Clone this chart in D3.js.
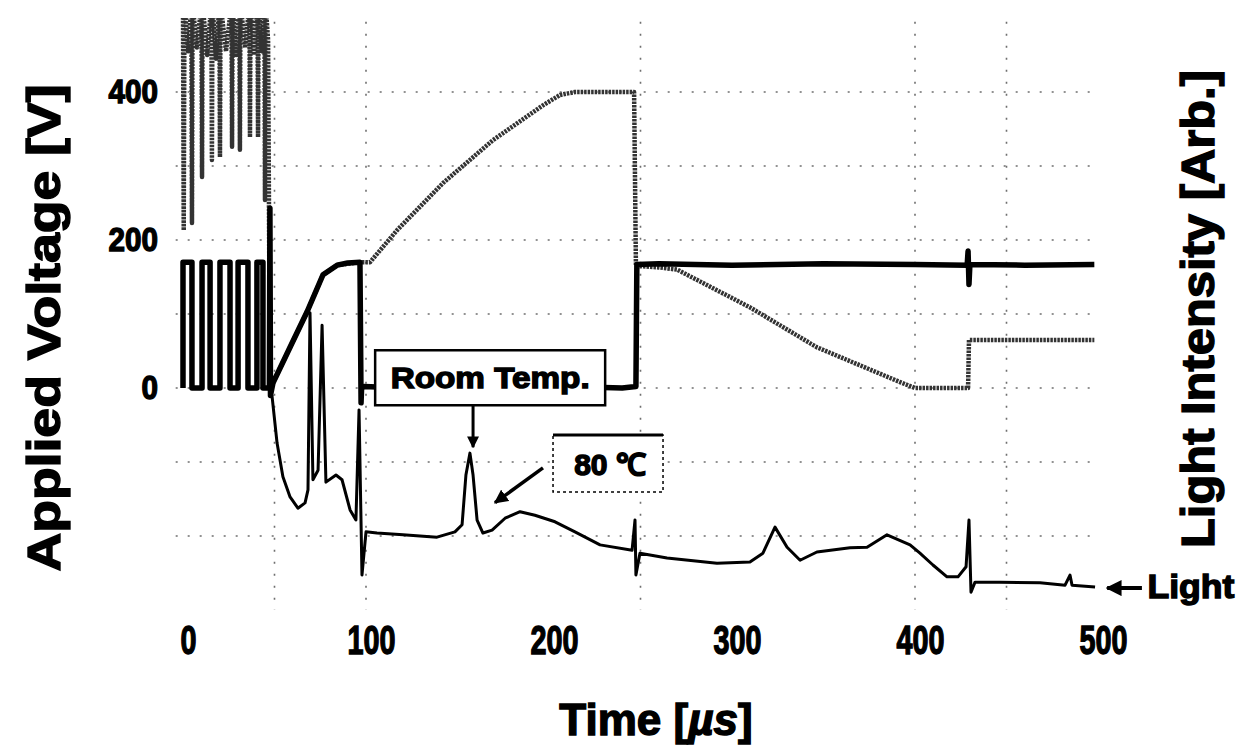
<!DOCTYPE html>
<html>
<head>
<meta charset="utf-8">
<script src="https://cdn.jsdelivr.net/npm/d3@7"></script>
<style>
  html, body { margin: 0; padding: 0; background: #fff; }
  svg text { font-family: "Liberation Sans", Arial, sans-serif; font-weight: bold; fill: #000; }
  svg text.heavy { stroke: #000; stroke-width: 1.4px; }
</style>
</head>
<body>
<svg id="chart" width="1243" height="747"></svg>
<script>
// axis ticks and oscilloscope grid (time in µs, voltage in V)
const timeTicks = [0, 100, 200, 300, 400, 500];
const voltTicks = [0, 200, 400];
const gridTimes = [50, 100, 250, 400, 450];
const gridVolts = [400, 300, 200, 100, 0, -100, -200];

// applied voltage, dark trace [time, V]
const sustainTrace = [
  [0, 0], [0, 170], [4.9, 170], [4.9, 0], [10.4, 0], [10.4, 170], [14.8, 170], [14.8, 0],
  [20.2, 0], [20.2, 170], [25.7, 170], [25.7, 0], [30.1, 0], [30.1, 170], [35.5, 170], [35.5, 0],
  [40.4, 0], [40.4, 170], [43.7, 170], [43.7, 0], [47.2, 0], [47.5, 243], [47.8, -10],
  [49.2, 7], [58.5, 55], [67.8, 103], [76.5, 153], [84.2, 166], [90, 169], [96.7, 170],
  [97.3, -20], [97.6, 0], [99, 2], [120, 0], [150, 3], [180, -1], [210, 2], [240, 0], [247.5, 2],
  [248, 167], [260, 168], [300, 166], [350, 168], [400, 167], [428.5, 166], [429, 185],
  [429.5, 140], [430, 167], [460, 166], [498, 167]
];

// applied voltage, grey ramp trace [time, V]
const rampTrace = [
  [0, 520], [0.4, 213], [0.8, 520], [2.8, 455], [4.6, 520], [4.9, 223], [5.2, 520], [7.6, 460],
  [10.1, 520], [10.4, 285], [10.7, 520], [13.2, 450], [15.5, 520], [15.8, 308], [16.1, 520],
  [18, 445], [19.9, 520], [20.2, 312], [20.5, 520], [23.5, 455], [26.5, 520], [26.8, 326],
  [27.1, 520], [29, 450], [30.8, 520], [31.1, 322], [31.4, 520], [34, 460], [36.3, 520],
  [36.6, 339], [36.9, 520], [38.8, 450], [40.7, 520], [41, 339], [41.3, 520], [43, 455],
  [44.5, 520], [44.8, 254], [45.1, 520], [46.5, 470], [47.5, 0],
  [49.2, 7], [67.8, 103], [76.5, 153], [84.2, 166], [96.7, 170], [102.2, 170], [116.9, 213],
  [142.1, 277], [169.4, 335], [196.7, 382], [206, 396], [214.2, 400], [245.4, 400],
  [246.5, 400], [247.5, 165], [260, 163], [270, 160], [309.8, 109], [346.4, 55], [391.8, 8],
  [400, 0], [429, 0], [429.5, 65], [498, 65]
];

// light intensity [time, arb. units]
const lightTrace = [
  [48.6, 36.3], [51.4, 28.2], [54.6, 22.5], [58.5, 19.1], [62.8, 17.2], [66.7, 18.1],
  [68.3, 20.3], [69.4, 50.2], [71.0, 22.0], [73.8, 23.6], [76.0, 48.1], [78.1, 21.6],
  [83.6, 22.8], [86.9, 22.0], [91.3, 16.9], [94.5, 15.2], [96.2, 33.8], [97.8, 5.9],
  [100, 13.2], [106, 13.0], [120.2, 12.7], [138.8, 12.3], [148.6, 13.2], [152.5, 14.4],
  [154.6, 22.8], [156.8, 26.5], [158.5, 22.8], [160.7, 15.2], [163.9, 13.0], [168.9, 13.5],
  [176, 15.5], [184.2, 16.6], [192.3, 16.0], [203.3, 14.9], [214.2, 13.2], [227.9, 11.0],
  [245.4, 10.1], [247, 15.2], [247.5, 5.9], [249.7, 9.6], [264.5, 8.8], [291.8, 7.9],
  [309.8, 8.1], [316.9, 9.6], [323.5, 14.0], [330.1, 10.6], [337.2, 8.4], [346.4, 9.8],
  [364.5, 10.5], [373.8, 10.6], [384.7, 12.7], [397.3, 11.0], [402.7, 9.6], [409.8, 7.6],
  [417.5, 5.6], [423.5, 5.6], [427.9, 7.3], [429.5, 15.2], [430.6, 3.0], [432.8, 4.7],
  [446.4, 4.7], [468.3, 4.6], [482, 4.2], [484.7, 5.9], [485.8, 4.2], [498.4, 3.9]
];

const svg = d3.select("#chart");

const x = d3.scaleLinear().domain([0, 500]).range([183, 1098]);
const yV = d3.scaleLinear().domain([-300, 500]).range([610, 18]);
const yL = d3.scaleLinear().domain([0, 100]).range([610, 18]);

svg.append("defs").append("clipPath").attr("id", "plot-clip")
  .append("rect")
  .attr("x", x(-4)).attr("y", yV(500))
  .attr("width", x(504) - x(-4)).attr("height", yV(-300) - yV(500));

const arrow = svg.select("defs").append("marker")
  .attr("id", "arrow-head")
  .attr("viewBox", "0 0 10 10")
  .attr("refX", 9).attr("refY", 5)
  .attr("markerWidth", 4).attr("markerHeight", 4)
  .attr("orient", "auto-start-reverse");
arrow.append("path").attr("d", "M0,0 L10,5 L0,10 Z").attr("fill", "#000");

// dotted grid
const grid = svg.append("g").attr("class", "grid")
  .attr("stroke", "#111").attr("stroke-width", 1.6)
  .attr("stroke-dasharray", "2,10").attr("opacity", 0.6);

grid.selectAll("line.v").data(gridTimes).enter().append("line")
  .attr("class", "v")
  .attr("x1", d => x(d)).attr("x2", d => x(d))
  .attr("y1", yV(495)).attr("y2", yV(-300));

grid.selectAll("line.h").data(gridVolts).enter().append("line")
  .attr("class", "h")
  .attr("x1", x(-4)).attr("x2", x(500))
  .attr("y1", d => yV(d)).attr("y2", d => yV(d));

// traces
const plot = svg.append("g").attr("clip-path", "url(#plot-clip)");

const voltLine = d3.line().x(d => x(d[0])).y(d => yV(d[1]));
const lightLine = d3.line().x(d => x(d[0])).y(d => yL(d[1]));

plot.append("path")
  .datum(rampTrace)
  .attr("d", voltLine)
  .attr("fill", "none")
  .attr("stroke", "#333")
  .attr("stroke-width", 4.5)
  .attr("stroke-dasharray", "2.5,1")
  .attr("stroke-linejoin", "round");

plot.append("path")
  .datum(sustainTrace)
  .attr("d", voltLine)
  .attr("fill", "none")
  .attr("stroke", "#000")
  .attr("stroke-width", 5.5)
  .attr("stroke-linejoin", "round");

plot.append("path")
  .datum(lightTrace)
  .attr("d", lightLine)
  .attr("fill", "none")
  .attr("stroke", "#000")
  .attr("stroke-width", 3)
  .attr("stroke-linejoin", "round");

// axes (labels only, no lines)
const xAxis = svg.append("g")
  .attr("transform", "translate(0,626)")
  .call(d3.axisBottom(x).tickValues(timeTicks).tickSize(0).tickPadding(0));
xAxis.select(".domain").remove();
xAxis.selectAll("text")
  .attr("class", "heavy")
  .attr("dx", 5)
  .style("font-size", "40px")
  .attr("textLength", d => String(d).length * 16)
  .attr("lengthAdjust", "spacingAndGlyphs");

const yAxis = svg.append("g")
  .attr("transform", "translate(158,0)")
  .call(d3.axisLeft(yV).tickValues(voltTicks).tickSize(0).tickPadding(0));
yAxis.select(".domain").remove();
yAxis.selectAll("text")
  .attr("class", "heavy")
  .style("font-size", "34px")
  .attr("textLength", d => String(d).length * 16.5)
  .attr("lengthAdjust", "spacingAndGlyphs");

// axis titles
svg.append("text")
  .attr("class", "heavy")
  .attr("transform", "translate(60,328) rotate(-90)")
  .attr("text-anchor", "middle")
  .style("font-size", "46px")
  .attr("textLength", 487)
  .attr("lengthAdjust", "spacingAndGlyphs")
  .text("Applied Voltage [V]");

svg.append("text")
  .attr("class", "heavy")
  .attr("transform", "translate(1214,309) rotate(-90)")
  .attr("text-anchor", "middle")
  .style("font-size", "46px")
  .attr("textLength", 478)
  .attr("lengthAdjust", "spacingAndGlyphs")
  .text("Light Intensity [Arb.]");

const xTitle = svg.append("text")
  .attr("class", "heavy")
  .attr("x", 656).attr("y", 735)
  .attr("text-anchor", "middle")
  .style("font-size", "44px");
xTitle.append("tspan").text("Time [");
xTitle.append("tspan").style("font-style", "italic").text("µs");
xTitle.append("tspan").text("]");

// annotations
const notes = svg.append("g");

notes.append("rect")
  .attr("x", x(105)).attr("y", yV(51))
  .attr("width", 230).attr("height", 55)
  .attr("fill", "#fff").attr("stroke", "#000").attr("stroke-width", 2.5);
notes.append("text")
  .attr("class", "heavy")
  .attr("x", x(105) + 115).attr("y", yV(51) + 38)
  .attr("text-anchor", "middle")
  .style("font-size", "30px")
  .attr("textLength", 199)
  .attr("lengthAdjust", "spacingAndGlyphs")
  .text("Room Temp.");
notes.append("line")
  .attr("x1", x(158.5)).attr("x2", x(158.5))
  .attr("y1", yV(-23)).attr("y2", yV(-80))
  .attr("stroke", "#000").attr("stroke-width", 3)
  .attr("marker-end", "url(#arrow-head)");

notes.append("rect")
  .attr("x", x(202.2)).attr("y", yV(-63.5))
  .attr("width", 110).attr("height", 57)
  .attr("fill", "#fff").attr("stroke", "#000").attr("stroke-width", 1.5)
  .attr("stroke-dasharray", "3,3");
notes.append("line")
  .attr("x1", x(202.2)).attr("x2", x(202.2) + 110)
  .attr("y1", yV(-63.5)).attr("y2", yV(-63.5))
  .attr("stroke", "#000").attr("stroke-width", 3);
notes.append("text")
  .attr("class", "heavy")
  .attr("x", x(202.2) + 57).attr("y", yV(-63.5) + 40)
  .attr("text-anchor", "middle")
  .style("font-size", "30px")
  .text("80 ℃");
notes.append("line")
  .attr("x1", x(196.7)).attr("y1", yV(-108))
  .attr("x2", x(170.5)).attr("y2", yV(-155))
  .attr("stroke", "#000").attr("stroke-width", 3.5)
  .attr("marker-end", "url(#arrow-head)");

// "Light" legend arrow
notes.append("line")
  .attr("x1", x(524)).attr("x2", x(505))
  .attr("y1", yL(3.7)).attr("y2", yL(3.7))
  .attr("stroke", "#000").attr("stroke-width", 4)
  .attr("marker-end", "url(#arrow-head)");
notes.append("text")
  .attr("class", "heavy")
  .attr("x", x(527)).attr("y", yL(3.7) + 10)
  .style("font-size", "34px")
  .attr("textLength", 87)
  .attr("lengthAdjust", "spacingAndGlyphs")
  .text("Light");
</script>
</body>
</html>
